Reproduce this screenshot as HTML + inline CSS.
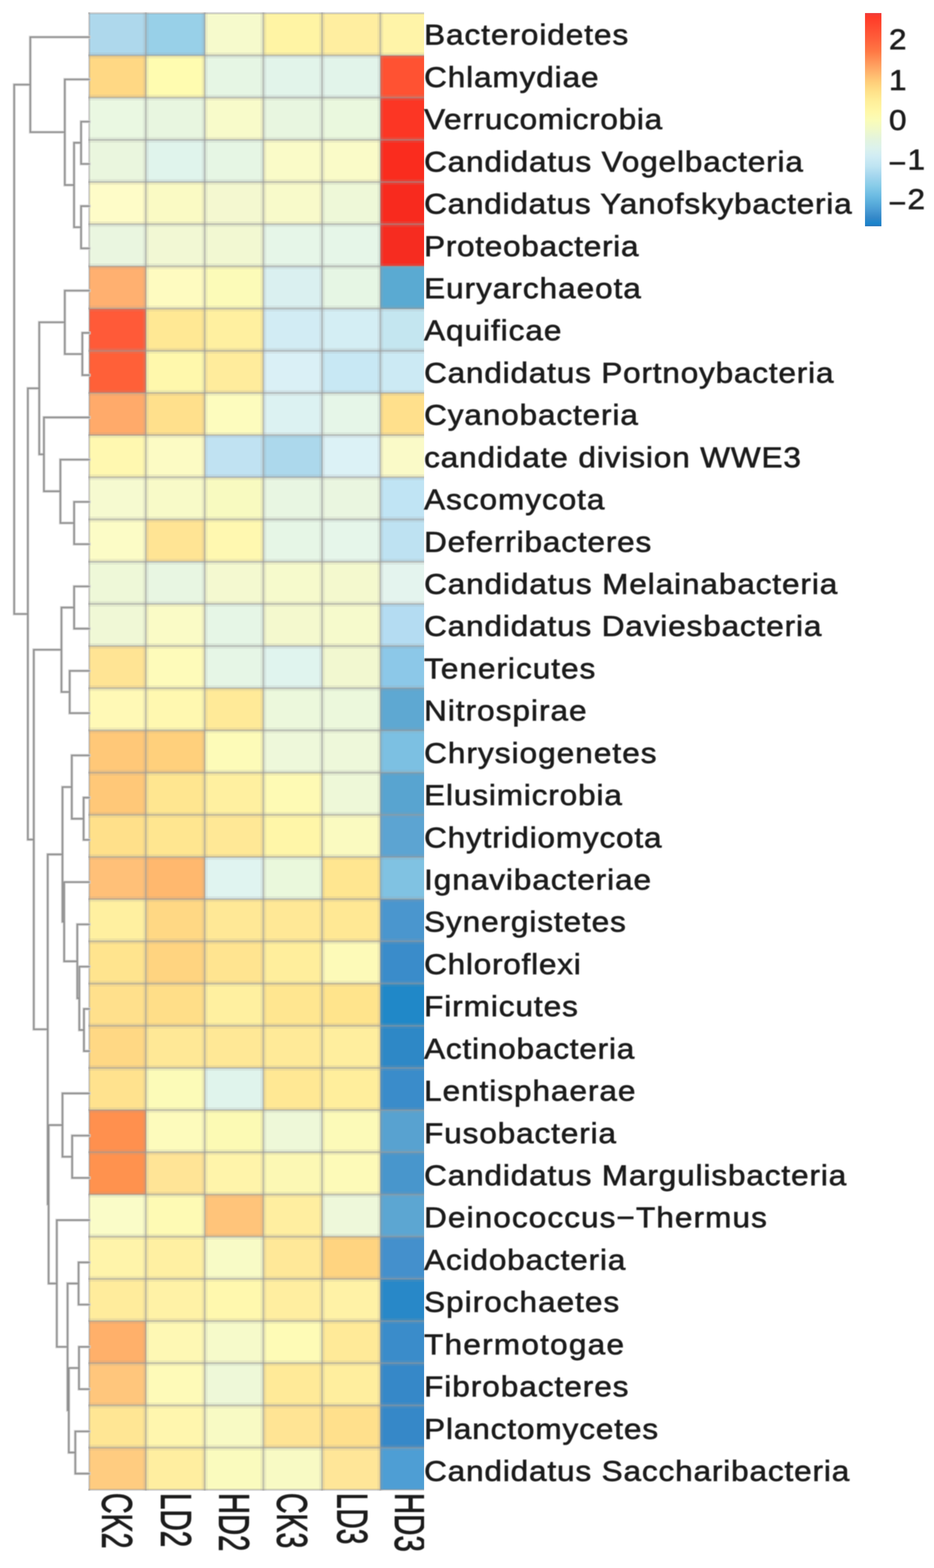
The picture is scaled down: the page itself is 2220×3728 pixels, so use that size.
<!DOCTYPE html>
<html><head><meta charset="utf-8"><title>Heatmap</title>
<style>
html,body{margin:0;padding:0;background:#fff;}
body{width:2220px;height:3728px;position:relative;overflow:hidden;}
.t{font-family:"Liberation Sans",Arial,sans-serif;font-size:68px;fill:#1e1e1e;stroke:#1e1e1e;stroke-width:1.4px;}
</style></head><body>
<svg width="2220" height="3728" viewBox="0 0 2220 3728" style="position:absolute;left:0;top:0"><defs><filter id="bl" x="-0.05" y="-0.05" width="1.1" height="1.1"><feGaussianBlur stdDeviation="1.1"/></filter><filter id="tb" x="-0.02" y="-0.02" width="1.04" height="1.04"><feGaussianBlur stdDeviation="0.9"/></filter><clipPath id="hc"><rect x="0" y="0" width="1008" height="3728"/></clipPath><linearGradient id="lg" x1="0" y1="0" x2="0" y2="1"><stop offset="0" stop-color="#EC3C3C"/><stop offset="0.018" stop-color="#FF3A28"/><stop offset="0.063" stop-color="#FF4A30"/><stop offset="0.119" stop-color="#FF5E3A"/><stop offset="0.18" stop-color="#FF7844"/><stop offset="0.236" stop-color="#FF9A5C"/><stop offset="0.28" stop-color="#FFB46C"/><stop offset="0.32" stop-color="#FFCC78"/><stop offset="0.366" stop-color="#FFE088"/><stop offset="0.41" stop-color="#FFEE98"/><stop offset="0.463" stop-color="#FFF8A8"/><stop offset="0.503" stop-color="#FAFCB8"/><stop offset="0.552" stop-color="#EEF8CC"/><stop offset="0.588" stop-color="#E4F4DC"/><stop offset="0.632" stop-color="#DCF2EC"/><stop offset="0.673" stop-color="#D0ECF4"/><stop offset="0.719" stop-color="#BEE4F2"/><stop offset="0.764" stop-color="#A4D6EE"/><stop offset="0.81" stop-color="#88CCE8"/><stop offset="0.85" stop-color="#70BEE4"/><stop offset="0.889" stop-color="#5AAEDC"/><stop offset="0.923" stop-color="#4A9CD4"/><stop offset="0.96" stop-color="#3488C8"/><stop offset="0.988" stop-color="#1A84CC"/><stop offset="1" stop-color="#2A74B8"/></linearGradient></defs><g clip-path="url(#hc)" shape-rendering="crispEdges"><rect x="212.0" y="31.5" width="134.5" height="100.3" fill="#AED8EC"/><rect x="346.5" y="31.5" width="140.0" height="100.3" fill="#98D0E8"/><rect x="486.5" y="31.5" width="139.5" height="100.3" fill="#F6FACC"/><rect x="626.0" y="31.5" width="139.5" height="100.3" fill="#FFF4A4"/><rect x="765.5" y="31.5" width="138.5" height="100.3" fill="#FFEEA0"/><rect x="904.0" y="31.5" width="139.0" height="100.3" fill="#FFF4A8"/><rect x="212.0" y="131.8" width="134.5" height="100.3" fill="#FFD884"/><rect x="346.5" y="131.8" width="140.0" height="100.3" fill="#FFFCB0"/><rect x="486.5" y="131.8" width="139.5" height="100.3" fill="#E6F6E4"/><rect x="626.0" y="131.8" width="139.5" height="100.3" fill="#E2F4EA"/><rect x="765.5" y="131.8" width="138.5" height="100.3" fill="#E2F4EA"/><rect x="904.0" y="131.8" width="139.0" height="100.3" fill="#FF5232"/><rect x="212.0" y="232.1" width="134.5" height="100.3" fill="#EAF8E2"/><rect x="346.5" y="232.1" width="140.0" height="100.3" fill="#E8F6E0"/><rect x="486.5" y="232.1" width="139.5" height="100.3" fill="#F8FBCA"/><rect x="626.0" y="232.1" width="139.5" height="100.3" fill="#E8F6E0"/><rect x="765.5" y="232.1" width="138.5" height="100.3" fill="#EAF8DE"/><rect x="904.0" y="232.1" width="139.0" height="100.3" fill="#FC3624"/><rect x="212.0" y="332.4" width="134.5" height="100.3" fill="#EAF6DE"/><rect x="346.5" y="332.4" width="140.0" height="100.3" fill="#E0F4EC"/><rect x="486.5" y="332.4" width="139.5" height="100.3" fill="#E6F6E4"/><rect x="626.0" y="332.4" width="139.5" height="100.3" fill="#FAFBC8"/><rect x="765.5" y="332.4" width="138.5" height="100.3" fill="#FAFBC8"/><rect x="904.0" y="332.4" width="139.0" height="100.3" fill="#FA2C1E"/><rect x="212.0" y="432.7" width="134.5" height="100.3" fill="#FEFCC8"/><rect x="346.5" y="432.7" width="140.0" height="100.3" fill="#FAFAC4"/><rect x="486.5" y="432.7" width="139.5" height="100.3" fill="#F4F8D0"/><rect x="626.0" y="432.7" width="139.5" height="100.3" fill="#F8FACA"/><rect x="765.5" y="432.7" width="138.5" height="100.3" fill="#EEF8D8"/><rect x="904.0" y="432.7" width="139.0" height="100.3" fill="#F82A1E"/><rect x="212.0" y="533.0" width="134.5" height="100.3" fill="#EAF6E0"/><rect x="346.5" y="533.0" width="140.0" height="100.3" fill="#F2F8D4"/><rect x="486.5" y="533.0" width="139.5" height="100.3" fill="#F2F8D2"/><rect x="626.0" y="533.0" width="139.5" height="100.3" fill="#E6F6E8"/><rect x="765.5" y="533.0" width="138.5" height="100.3" fill="#E6F6E8"/><rect x="904.0" y="533.0" width="139.0" height="100.3" fill="#F62C20"/><rect x="212.0" y="633.3" width="134.5" height="100.3" fill="#FFB070"/><rect x="346.5" y="633.3" width="140.0" height="100.3" fill="#FEFBC0"/><rect x="486.5" y="633.3" width="139.5" height="100.3" fill="#FCFBB8"/><rect x="626.0" y="633.3" width="139.5" height="100.3" fill="#DAF0F0"/><rect x="765.5" y="633.3" width="138.5" height="100.3" fill="#E6F6E4"/><rect x="904.0" y="633.3" width="139.0" height="100.3" fill="#5AAAD2"/><rect x="212.0" y="733.6" width="134.5" height="100.3" fill="#FF5A38"/><rect x="346.5" y="733.6" width="140.0" height="100.3" fill="#FFE894"/><rect x="486.5" y="733.6" width="139.5" height="100.3" fill="#FFF0A0"/><rect x="626.0" y="733.6" width="139.5" height="100.3" fill="#D2ECF4"/><rect x="765.5" y="733.6" width="138.5" height="100.3" fill="#D4EEF4"/><rect x="904.0" y="733.6" width="139.0" height="100.3" fill="#C4E6F0"/><rect x="212.0" y="833.9" width="134.5" height="100.3" fill="#FF6038"/><rect x="346.5" y="833.9" width="140.0" height="100.3" fill="#FFF8AC"/><rect x="486.5" y="833.9" width="139.5" height="100.3" fill="#FFEC9C"/><rect x="626.0" y="833.9" width="139.5" height="100.3" fill="#DAF0F6"/><rect x="765.5" y="833.9" width="138.5" height="100.3" fill="#C8E8F4"/><rect x="904.0" y="833.9" width="139.0" height="100.3" fill="#CCEAF4"/><rect x="212.0" y="934.2" width="134.5" height="100.3" fill="#FFAA6A"/><rect x="346.5" y="934.2" width="140.0" height="100.3" fill="#FFE08C"/><rect x="486.5" y="934.2" width="139.5" height="100.3" fill="#FDFCBE"/><rect x="626.0" y="934.2" width="139.5" height="100.3" fill="#DCF2F2"/><rect x="765.5" y="934.2" width="138.5" height="100.3" fill="#E6F6E8"/><rect x="904.0" y="934.2" width="139.0" height="100.3" fill="#FFE08C"/><rect x="212.0" y="1034.5" width="134.5" height="100.3" fill="#FFF8B0"/><rect x="346.5" y="1034.5" width="140.0" height="100.3" fill="#FCFBC4"/><rect x="486.5" y="1034.5" width="139.5" height="100.3" fill="#C0E2F2"/><rect x="626.0" y="1034.5" width="139.5" height="100.3" fill="#ACD8EC"/><rect x="765.5" y="1034.5" width="138.5" height="100.3" fill="#DCF2F6"/><rect x="904.0" y="1034.5" width="139.0" height="100.3" fill="#FAFAC8"/><rect x="212.0" y="1134.8" width="134.5" height="100.3" fill="#F6FAD0"/><rect x="346.5" y="1134.8" width="140.0" height="100.3" fill="#F8FAC8"/><rect x="486.5" y="1134.8" width="139.5" height="100.3" fill="#F8FAC0"/><rect x="626.0" y="1134.8" width="139.5" height="100.3" fill="#E8F6E2"/><rect x="765.5" y="1134.8" width="138.5" height="100.3" fill="#EAF6E0"/><rect x="904.0" y="1134.8" width="139.0" height="100.3" fill="#C0E4F4"/><rect x="212.0" y="1235.1" width="134.5" height="100.3" fill="#FCFCC6"/><rect x="346.5" y="1235.1" width="140.0" height="100.3" fill="#FFE494"/><rect x="486.5" y="1235.1" width="139.5" height="100.3" fill="#FFF8B0"/><rect x="626.0" y="1235.1" width="139.5" height="100.3" fill="#E6F6E6"/><rect x="765.5" y="1235.1" width="138.5" height="100.3" fill="#E6F6EA"/><rect x="904.0" y="1235.1" width="139.0" height="100.3" fill="#BEE2F2"/><rect x="212.0" y="1335.4" width="134.5" height="100.3" fill="#EEF8D8"/><rect x="346.5" y="1335.4" width="140.0" height="100.3" fill="#E8F6E2"/><rect x="486.5" y="1335.4" width="139.5" height="100.3" fill="#F4F9D0"/><rect x="626.0" y="1335.4" width="139.5" height="100.3" fill="#F6FACC"/><rect x="765.5" y="1335.4" width="138.5" height="100.3" fill="#F4F9CE"/><rect x="904.0" y="1335.4" width="139.0" height="100.3" fill="#E4F4EE"/><rect x="212.0" y="1435.7" width="134.5" height="100.3" fill="#F0F8D6"/><rect x="346.5" y="1435.7" width="140.0" height="100.3" fill="#FAFBC6"/><rect x="486.5" y="1435.7" width="139.5" height="100.3" fill="#E6F6E6"/><rect x="626.0" y="1435.7" width="139.5" height="100.3" fill="#F4F9CE"/><rect x="765.5" y="1435.7" width="138.5" height="100.3" fill="#F6FACC"/><rect x="904.0" y="1435.7" width="139.0" height="100.3" fill="#B4DCF2"/><rect x="212.0" y="1536.0" width="134.5" height="100.3" fill="#FFE494"/><rect x="346.5" y="1536.0" width="140.0" height="100.3" fill="#FEFBBA"/><rect x="486.5" y="1536.0" width="139.5" height="100.3" fill="#E6F6E6"/><rect x="626.0" y="1536.0" width="139.5" height="100.3" fill="#E0F4EE"/><rect x="765.5" y="1536.0" width="138.5" height="100.3" fill="#F2F8D0"/><rect x="904.0" y="1536.0" width="139.0" height="100.3" fill="#8CC8E8"/><rect x="212.0" y="1636.3" width="134.5" height="100.3" fill="#FFF9B6"/><rect x="346.5" y="1636.3" width="140.0" height="100.3" fill="#FFF8B0"/><rect x="486.5" y="1636.3" width="139.5" height="100.3" fill="#FFEA98"/><rect x="626.0" y="1636.3" width="139.5" height="100.3" fill="#ECF8DC"/><rect x="765.5" y="1636.3" width="138.5" height="100.3" fill="#ECF8DC"/><rect x="904.0" y="1636.3" width="139.0" height="100.3" fill="#5EA8D2"/><rect x="212.0" y="1736.6" width="134.5" height="100.3" fill="#FFC878"/><rect x="346.5" y="1736.6" width="140.0" height="100.3" fill="#FFD07C"/><rect x="486.5" y="1736.6" width="139.5" height="100.3" fill="#FDFBB8"/><rect x="626.0" y="1736.6" width="139.5" height="100.3" fill="#EEF8DA"/><rect x="765.5" y="1736.6" width="138.5" height="100.3" fill="#EEF8DA"/><rect x="904.0" y="1736.6" width="139.0" height="100.3" fill="#7CC0E2"/><rect x="212.0" y="1836.9" width="134.5" height="100.3" fill="#FFC878"/><rect x="346.5" y="1836.9" width="140.0" height="100.3" fill="#FFE690"/><rect x="486.5" y="1836.9" width="139.5" height="100.3" fill="#FFF0A0"/><rect x="626.0" y="1836.9" width="139.5" height="100.3" fill="#FEFAB4"/><rect x="765.5" y="1836.9" width="138.5" height="100.3" fill="#EEF8D8"/><rect x="904.0" y="1836.9" width="139.0" height="100.3" fill="#58A4D0"/><rect x="212.0" y="1937.2" width="134.5" height="100.3" fill="#FFE08A"/><rect x="346.5" y="1937.2" width="140.0" height="100.3" fill="#FFE690"/><rect x="486.5" y="1937.2" width="139.5" height="100.3" fill="#FFE896"/><rect x="626.0" y="1937.2" width="139.5" height="100.3" fill="#FFF6A8"/><rect x="765.5" y="1937.2" width="138.5" height="100.3" fill="#FAFAC0"/><rect x="904.0" y="1937.2" width="139.0" height="100.3" fill="#5CA4D2"/><rect x="212.0" y="2037.5" width="134.5" height="100.3" fill="#FFC078"/><rect x="346.5" y="2037.5" width="140.0" height="100.3" fill="#FFB86E"/><rect x="486.5" y="2037.5" width="139.5" height="100.3" fill="#E0F4F0"/><rect x="626.0" y="2037.5" width="139.5" height="100.3" fill="#EAF8DC"/><rect x="765.5" y="2037.5" width="138.5" height="100.3" fill="#FFE690"/><rect x="904.0" y="2037.5" width="139.0" height="100.3" fill="#80C2E2"/><rect x="212.0" y="2137.8" width="134.5" height="100.3" fill="#FFF0A0"/><rect x="346.5" y="2137.8" width="140.0" height="100.3" fill="#FFD884"/><rect x="486.5" y="2137.8" width="139.5" height="100.3" fill="#FFE896"/><rect x="626.0" y="2137.8" width="139.5" height="100.3" fill="#FFE896"/><rect x="765.5" y="2137.8" width="138.5" height="100.3" fill="#FFE894"/><rect x="904.0" y="2137.8" width="139.0" height="100.3" fill="#4A96CE"/><rect x="212.0" y="2238.1" width="134.5" height="100.3" fill="#FFE48E"/><rect x="346.5" y="2238.1" width="140.0" height="100.3" fill="#FFD480"/><rect x="486.5" y="2238.1" width="139.5" height="100.3" fill="#FFE490"/><rect x="626.0" y="2238.1" width="139.5" height="100.3" fill="#FFEE9C"/><rect x="765.5" y="2238.1" width="138.5" height="100.3" fill="#FDFAB8"/><rect x="904.0" y="2238.1" width="139.0" height="100.3" fill="#3A8CCA"/><rect x="212.0" y="2338.4" width="134.5" height="100.3" fill="#FFE08C"/><rect x="346.5" y="2338.4" width="140.0" height="100.3" fill="#FFDE88"/><rect x="486.5" y="2338.4" width="139.5" height="100.3" fill="#FFF0A0"/><rect x="626.0" y="2338.4" width="139.5" height="100.3" fill="#FFE690"/><rect x="765.5" y="2338.4" width="138.5" height="100.3" fill="#FFE48C"/><rect x="904.0" y="2338.4" width="139.0" height="100.3" fill="#2088C8"/><rect x="212.0" y="2438.7" width="134.5" height="100.3" fill="#FFD884"/><rect x="346.5" y="2438.7" width="140.0" height="100.3" fill="#FFE896"/><rect x="486.5" y="2438.7" width="139.5" height="100.3" fill="#FFE896"/><rect x="626.0" y="2438.7" width="139.5" height="100.3" fill="#FFEA98"/><rect x="765.5" y="2438.7" width="138.5" height="100.3" fill="#FFEE9E"/><rect x="904.0" y="2438.7" width="139.0" height="100.3" fill="#2E88C6"/><rect x="212.0" y="2539.0" width="134.5" height="100.3" fill="#FFE28E"/><rect x="346.5" y="2539.0" width="140.0" height="100.3" fill="#FCFBB8"/><rect x="486.5" y="2539.0" width="139.5" height="100.3" fill="#E0F4EC"/><rect x="626.0" y="2539.0" width="139.5" height="100.3" fill="#FFE894"/><rect x="765.5" y="2539.0" width="138.5" height="100.3" fill="#FFEE9C"/><rect x="904.0" y="2539.0" width="139.0" height="100.3" fill="#3A8CCA"/><rect x="212.0" y="2639.3" width="134.5" height="100.3" fill="#FF904E"/><rect x="346.5" y="2639.3" width="140.0" height="100.3" fill="#FDFBBC"/><rect x="486.5" y="2639.3" width="139.5" height="100.3" fill="#FCFAB4"/><rect x="626.0" y="2639.3" width="139.5" height="100.3" fill="#EEF8D8"/><rect x="765.5" y="2639.3" width="138.5" height="100.3" fill="#FCFAB8"/><rect x="904.0" y="2639.3" width="139.0" height="100.3" fill="#58A2D0"/><rect x="212.0" y="2739.6" width="134.5" height="100.3" fill="#FF924E"/><rect x="346.5" y="2739.6" width="140.0" height="100.3" fill="#FFE496"/><rect x="486.5" y="2739.6" width="139.5" height="100.3" fill="#FFF4AA"/><rect x="626.0" y="2739.6" width="139.5" height="100.3" fill="#FCF8B4"/><rect x="765.5" y="2739.6" width="138.5" height="100.3" fill="#FDFAB8"/><rect x="904.0" y="2739.6" width="139.0" height="100.3" fill="#4896CC"/><rect x="212.0" y="2839.9" width="134.5" height="100.3" fill="#FAFCC8"/><rect x="346.5" y="2839.9" width="140.0" height="100.3" fill="#FEFAB4"/><rect x="486.5" y="2839.9" width="139.5" height="100.3" fill="#FFC47A"/><rect x="626.0" y="2839.9" width="139.5" height="100.3" fill="#FFEEA0"/><rect x="765.5" y="2839.9" width="138.5" height="100.3" fill="#EEF8DA"/><rect x="904.0" y="2839.9" width="139.0" height="100.3" fill="#5CA6D2"/><rect x="212.0" y="2940.2" width="134.5" height="100.3" fill="#FFF4AA"/><rect x="346.5" y="2940.2" width="140.0" height="100.3" fill="#FFF0A2"/><rect x="486.5" y="2940.2" width="139.5" height="100.3" fill="#F8FBC6"/><rect x="626.0" y="2940.2" width="139.5" height="100.3" fill="#FFE898"/><rect x="765.5" y="2940.2" width="138.5" height="100.3" fill="#FFD480"/><rect x="904.0" y="2940.2" width="139.0" height="100.3" fill="#4490CC"/><rect x="212.0" y="3040.5" width="134.5" height="100.3" fill="#FFEC9C"/><rect x="346.5" y="3040.5" width="140.0" height="100.3" fill="#FFF2A6"/><rect x="486.5" y="3040.5" width="139.5" height="100.3" fill="#FFF8AE"/><rect x="626.0" y="3040.5" width="139.5" height="100.3" fill="#FFEEA0"/><rect x="765.5" y="3040.5" width="138.5" height="100.3" fill="#FFF2A6"/><rect x="904.0" y="3040.5" width="139.0" height="100.3" fill="#2888C8"/><rect x="212.0" y="3140.8" width="134.5" height="100.3" fill="#FFB06A"/><rect x="346.5" y="3140.8" width="140.0" height="100.3" fill="#FEF8B4"/><rect x="486.5" y="3140.8" width="139.5" height="100.3" fill="#F6FACA"/><rect x="626.0" y="3140.8" width="139.5" height="100.3" fill="#FEFBB6"/><rect x="765.5" y="3140.8" width="138.5" height="100.3" fill="#FFEA98"/><rect x="904.0" y="3140.8" width="139.0" height="100.3" fill="#3A8CCA"/><rect x="212.0" y="3241.1" width="134.5" height="100.3" fill="#FFC67C"/><rect x="346.5" y="3241.1" width="140.0" height="100.3" fill="#FEFAB8"/><rect x="486.5" y="3241.1" width="139.5" height="100.3" fill="#EEF8D8"/><rect x="626.0" y="3241.1" width="139.5" height="100.3" fill="#FFEA98"/><rect x="765.5" y="3241.1" width="138.5" height="100.3" fill="#FFEE9E"/><rect x="904.0" y="3241.1" width="139.0" height="100.3" fill="#3688C8"/><rect x="212.0" y="3341.4" width="134.5" height="100.3" fill="#FFE694"/><rect x="346.5" y="3341.4" width="140.0" height="100.3" fill="#FFF6AE"/><rect x="486.5" y="3341.4" width="139.5" height="100.3" fill="#F8FAC4"/><rect x="626.0" y="3341.4" width="139.5" height="100.3" fill="#FFE494"/><rect x="765.5" y="3341.4" width="138.5" height="100.3" fill="#FFE08C"/><rect x="904.0" y="3341.4" width="139.0" height="100.3" fill="#3688C8"/><rect x="212.0" y="3441.7" width="134.5" height="100.3" fill="#FFCC80"/><rect x="346.5" y="3441.7" width="140.0" height="100.3" fill="#FFEEA0"/><rect x="486.5" y="3441.7" width="139.5" height="100.3" fill="#FAFBBE"/><rect x="626.0" y="3441.7" width="139.5" height="100.3" fill="#F8FAC4"/><rect x="765.5" y="3441.7" width="138.5" height="100.3" fill="#FFE698"/><rect x="904.0" y="3441.7" width="139.0" height="100.3" fill="#4E9ED4"/></g><g clip-path="url(#hc)" fill="none" stroke="#999999"><g stroke-width="14" stroke-opacity="0.14"><line x1="210" y1="131.8" x2="1043" y2="131.8"/><line x1="210" y1="232.1" x2="1043" y2="232.1"/><line x1="210" y1="332.4" x2="1043" y2="332.4"/><line x1="210" y1="432.7" x2="1043" y2="432.7"/><line x1="210" y1="533.0" x2="1043" y2="533.0"/><line x1="210" y1="633.3" x2="1043" y2="633.3"/><line x1="210" y1="733.6" x2="1043" y2="733.6"/><line x1="210" y1="833.9" x2="1043" y2="833.9"/><line x1="210" y1="934.2" x2="1043" y2="934.2"/><line x1="210" y1="1034.5" x2="1043" y2="1034.5"/><line x1="210" y1="1134.8" x2="1043" y2="1134.8"/><line x1="210" y1="1235.1" x2="1043" y2="1235.1"/><line x1="210" y1="1335.4" x2="1043" y2="1335.4"/><line x1="210" y1="1435.7" x2="1043" y2="1435.7"/><line x1="210" y1="1536.0" x2="1043" y2="1536.0"/><line x1="210" y1="1636.3" x2="1043" y2="1636.3"/><line x1="210" y1="1736.6" x2="1043" y2="1736.6"/><line x1="210" y1="1836.9" x2="1043" y2="1836.9"/><line x1="210" y1="1937.2" x2="1043" y2="1937.2"/><line x1="210" y1="2037.5" x2="1043" y2="2037.5"/><line x1="210" y1="2137.8" x2="1043" y2="2137.8"/><line x1="210" y1="2238.1" x2="1043" y2="2238.1"/><line x1="210" y1="2338.4" x2="1043" y2="2338.4"/><line x1="210" y1="2438.7" x2="1043" y2="2438.7"/><line x1="210" y1="2539.0" x2="1043" y2="2539.0"/><line x1="210" y1="2639.3" x2="1043" y2="2639.3"/><line x1="210" y1="2739.6" x2="1043" y2="2739.6"/><line x1="210" y1="2839.9" x2="1043" y2="2839.9"/><line x1="210" y1="2940.2" x2="1043" y2="2940.2"/><line x1="210" y1="3040.5" x2="1043" y2="3040.5"/><line x1="210" y1="3140.8" x2="1043" y2="3140.8"/><line x1="210" y1="3241.1" x2="1043" y2="3241.1"/><line x1="210" y1="3341.4" x2="1043" y2="3341.4"/><line x1="210" y1="3441.7" x2="1043" y2="3441.7"/><line x1="346.5" y1="29.5" x2="346.5" y2="3544"/><line x1="486.5" y1="29.5" x2="486.5" y2="3544"/><line x1="626" y1="29.5" x2="626" y2="3544"/><line x1="765.5" y1="29.5" x2="765.5" y2="3544"/><line x1="904" y1="29.5" x2="904" y2="3544"/><line x1="1043" y1="29.5" x2="1043" y2="3544"/></g><g stroke-width="5" stroke-opacity="0.42"><line x1="210" y1="31.5" x2="1043" y2="31.5"/><line x1="210" y1="131.8" x2="1043" y2="131.8"/><line x1="210" y1="232.1" x2="1043" y2="232.1"/><line x1="210" y1="332.4" x2="1043" y2="332.4"/><line x1="210" y1="432.7" x2="1043" y2="432.7"/><line x1="210" y1="533.0" x2="1043" y2="533.0"/><line x1="210" y1="633.3" x2="1043" y2="633.3"/><line x1="210" y1="733.6" x2="1043" y2="733.6"/><line x1="210" y1="833.9" x2="1043" y2="833.9"/><line x1="210" y1="934.2" x2="1043" y2="934.2"/><line x1="210" y1="1034.5" x2="1043" y2="1034.5"/><line x1="210" y1="1134.8" x2="1043" y2="1134.8"/><line x1="210" y1="1235.1" x2="1043" y2="1235.1"/><line x1="210" y1="1335.4" x2="1043" y2="1335.4"/><line x1="210" y1="1435.7" x2="1043" y2="1435.7"/><line x1="210" y1="1536.0" x2="1043" y2="1536.0"/><line x1="210" y1="1636.3" x2="1043" y2="1636.3"/><line x1="210" y1="1736.6" x2="1043" y2="1736.6"/><line x1="210" y1="1836.9" x2="1043" y2="1836.9"/><line x1="210" y1="1937.2" x2="1043" y2="1937.2"/><line x1="210" y1="2037.5" x2="1043" y2="2037.5"/><line x1="210" y1="2137.8" x2="1043" y2="2137.8"/><line x1="210" y1="2238.1" x2="1043" y2="2238.1"/><line x1="210" y1="2338.4" x2="1043" y2="2338.4"/><line x1="210" y1="2438.7" x2="1043" y2="2438.7"/><line x1="210" y1="2539.0" x2="1043" y2="2539.0"/><line x1="210" y1="2639.3" x2="1043" y2="2639.3"/><line x1="210" y1="2739.6" x2="1043" y2="2739.6"/><line x1="210" y1="2839.9" x2="1043" y2="2839.9"/><line x1="210" y1="2940.2" x2="1043" y2="2940.2"/><line x1="210" y1="3040.5" x2="1043" y2="3040.5"/><line x1="210" y1="3140.8" x2="1043" y2="3140.8"/><line x1="210" y1="3241.1" x2="1043" y2="3241.1"/><line x1="210" y1="3341.4" x2="1043" y2="3341.4"/><line x1="210" y1="3441.7" x2="1043" y2="3441.7"/><line x1="210" y1="3542.0" x2="1043" y2="3542.0"/><line x1="212" y1="29.5" x2="212" y2="3544"/><line x1="346.5" y1="29.5" x2="346.5" y2="3544"/><line x1="486.5" y1="29.5" x2="486.5" y2="3544"/><line x1="626" y1="29.5" x2="626" y2="3544"/><line x1="765.5" y1="29.5" x2="765.5" y2="3544"/><line x1="904" y1="29.5" x2="904" y2="3544"/><line x1="1043" y1="29.5" x2="1043" y2="3544"/></g></g><g filter="url(#bl)"><path d="M192.7 289.2H212.0M192.7 389.7H212.0M192.7 289.2V389.7M192.7 490.1H212.0M192.7 590.5H212.0M192.7 490.1V590.5M176.0 339.4H192.7M176.0 540.3H192.7M176.0 339.4V540.3M154.0 188.8H212.0M154.0 439.9H176.0M154.0 188.8V439.9M72.0 88.3H212.0M72.0 314.3H154.0M72.0 88.3V314.3M195.7 791.4H212.0M195.7 891.9H212.0M195.7 791.4V891.9M154.0 691.0H212.0M154.0 841.7H195.7M154.0 691.0V841.7M176.2 1193.2H212.0M176.2 1293.7H212.0M176.2 1193.2V1293.7M143.5 1092.8H212.0M143.5 1243.5H176.2M143.5 1092.8V1243.5M104.4 992.4H212.0M104.4 1168.1H143.5M104.4 992.4V1168.1M93.3 766.3H154.0M93.3 1080.2H104.4M93.3 766.3V1080.2M176.2 1394.2H212.0M176.2 1494.6H212.0M176.2 1394.2V1494.6M165.6 1595.0H212.0M165.6 1695.5H212.0M165.6 1595.0V1695.5M146.1 1444.4H176.2M146.1 1645.3H165.6M146.1 1444.4V1645.3M198.7 1896.4H212.0M198.7 1996.8H212.0M198.7 1896.4V1996.8M170.6 1796.0H212.0M170.6 1946.6H198.7M170.6 1796.0V1946.6M199.5 2398.7H212.0M199.5 2499.1H212.0M199.5 2398.7V2499.1M188.5 2298.2H212.0M188.5 2448.9H199.5M188.5 2298.2V2448.9M183.7 2197.8H212.0M183.7 2373.5H188.5M183.7 2197.8V2373.5M152.5 2097.3H212.0M152.5 2285.6H183.7M152.5 2097.3V2285.6M148.5 1871.3H170.6M148.5 2191.5H152.5M148.5 1871.3V2191.5M171.5 2700.0H212.0M171.5 2800.5H212.0M171.5 2700.0V2800.5M148.5 2599.6H212.0M148.5 2750.2H171.5M148.5 2599.6V2750.2M186.7 3001.4H212.0M186.7 3101.8H212.0M186.7 3001.4V3101.8M187.7 3202.3H212.0M187.7 3302.7H212.0M187.7 3202.3V3302.7M179.0 3403.2H212.0M179.0 3503.6H212.0M179.0 3403.2V3503.6M163.5 3252.5H187.7M163.5 3453.4H179.0M163.5 3252.5V3453.4M160.6 3051.6H186.7M160.6 3352.9H163.5M160.6 3051.6V3352.9M135.0 2900.9H212.0M135.0 3202.2H160.6M135.0 2900.9V3202.2M115.5 2674.9H148.5M115.5 3051.6H135.0M115.5 2674.9V3051.6M113.4 2031.4H148.5M113.4 2863.2H115.5M113.4 2031.4V2863.2M80.3 1544.8H146.1M80.3 2447.3H113.4M80.3 1544.8V2447.3M66.2 923.3H93.3M66.2 1996.1H80.3M66.2 923.3V1996.1M33.7 201.3H72.0M33.7 1459.7H66.2M33.7 201.3V1459.7" stroke="#d6d6d6" stroke-width="7" fill="none" stroke-linecap="square"/><path d="M192.7 289.2H212.0M192.7 389.7H212.0M192.7 289.2V389.7M192.7 490.1H212.0M192.7 590.5H212.0M192.7 490.1V590.5M176.0 339.4H192.7M176.0 540.3H192.7M176.0 339.4V540.3M154.0 188.8H212.0M154.0 439.9H176.0M154.0 188.8V439.9M72.0 88.3H212.0M72.0 314.3H154.0M72.0 88.3V314.3M195.7 791.4H212.0M195.7 891.9H212.0M195.7 791.4V891.9M154.0 691.0H212.0M154.0 841.7H195.7M154.0 691.0V841.7M176.2 1193.2H212.0M176.2 1293.7H212.0M176.2 1193.2V1293.7M143.5 1092.8H212.0M143.5 1243.5H176.2M143.5 1092.8V1243.5M104.4 992.4H212.0M104.4 1168.1H143.5M104.4 992.4V1168.1M93.3 766.3H154.0M93.3 1080.2H104.4M93.3 766.3V1080.2M176.2 1394.2H212.0M176.2 1494.6H212.0M176.2 1394.2V1494.6M165.6 1595.0H212.0M165.6 1695.5H212.0M165.6 1595.0V1695.5M146.1 1444.4H176.2M146.1 1645.3H165.6M146.1 1444.4V1645.3M198.7 1896.4H212.0M198.7 1996.8H212.0M198.7 1896.4V1996.8M170.6 1796.0H212.0M170.6 1946.6H198.7M170.6 1796.0V1946.6M199.5 2398.7H212.0M199.5 2499.1H212.0M199.5 2398.7V2499.1M188.5 2298.2H212.0M188.5 2448.9H199.5M188.5 2298.2V2448.9M183.7 2197.8H212.0M183.7 2373.5H188.5M183.7 2197.8V2373.5M152.5 2097.3H212.0M152.5 2285.6H183.7M152.5 2097.3V2285.6M148.5 1871.3H170.6M148.5 2191.5H152.5M148.5 1871.3V2191.5M171.5 2700.0H212.0M171.5 2800.5H212.0M171.5 2700.0V2800.5M148.5 2599.6H212.0M148.5 2750.2H171.5M148.5 2599.6V2750.2M186.7 3001.4H212.0M186.7 3101.8H212.0M186.7 3001.4V3101.8M187.7 3202.3H212.0M187.7 3302.7H212.0M187.7 3202.3V3302.7M179.0 3403.2H212.0M179.0 3503.6H212.0M179.0 3403.2V3503.6M163.5 3252.5H187.7M163.5 3453.4H179.0M163.5 3252.5V3453.4M160.6 3051.6H186.7M160.6 3352.9H163.5M160.6 3051.6V3352.9M135.0 2900.9H212.0M135.0 3202.2H160.6M135.0 2900.9V3202.2M115.5 2674.9H148.5M115.5 3051.6H135.0M115.5 2674.9V3051.6M113.4 2031.4H148.5M113.4 2863.2H115.5M113.4 2031.4V2863.2M80.3 1544.8H146.1M80.3 2447.3H113.4M80.3 1544.8V2447.3M66.2 923.3H93.3M66.2 1996.1H80.3M66.2 923.3V1996.1M33.7 201.3H72.0M33.7 1459.7H66.2M33.7 201.3V1459.7" stroke="#8e8e8e" stroke-width="3.6" fill="none" stroke-linecap="square"/></g><rect x="2056" y="31" width="39" height="507" fill="url(#lg)"/><g filter="url(#tb)"><text transform="translate(2113 117.0) scale(1.10 1)" class="t">2</text><text transform="translate(2113 213.5) scale(1.10 1)" class="t">1</text><text transform="translate(2113 309.0) scale(1.10 1)" class="t">0</text><text transform="translate(2112 402.5) scale(1.10 1)" class="t"><tspan x="0" dy="8.5" textLength="38.5" lengthAdjust="spacingAndGlyphs">−</tspan><tspan x="40.9" dy="-8.5">1</tspan></text><text transform="translate(2112 497.0) scale(1.10 1)" class="t"><tspan x="0" dy="8.5" textLength="38.5" lengthAdjust="spacingAndGlyphs">−</tspan><tspan x="40.9" dy="-8.5">2</tspan></text><text transform="translate(1008 106.3) scale(1.10 1)" class="t" letter-spacing="2.10">Bacteroidetes</text><text transform="translate(1008 206.7) scale(1.10 1)" class="t" letter-spacing="1.98">Chlamydiae</text><text transform="translate(1008 307.2) scale(1.10 1)" class="t" letter-spacing="1.66">Verrucomicrobia</text><text transform="translate(1008 407.6) scale(1.10 1)" class="t" letter-spacing="1.90">Candidatus Vogelbacteria</text><text transform="translate(1008 508.0) scale(1.10 1)" class="t" letter-spacing="1.76">Candidatus Yanofskybacteria</text><text transform="translate(1008 608.5) scale(1.10 1)" class="t" letter-spacing="1.62">Proteobacteria</text><text transform="translate(1008 708.9) scale(1.10 1)" class="t" letter-spacing="2.18">Euryarchaeota</text><text transform="translate(1008 809.3) scale(1.10 1)" class="t" letter-spacing="2.12">Aquificae</text><text transform="translate(1008 909.7) scale(1.10 1)" class="t" letter-spacing="1.82">Candidatus Portnoybacteria</text><text transform="translate(1008 1010.2) scale(1.10 1)" class="t" letter-spacing="1.95">Cyanobacteria</text><text transform="translate(1008 1110.6) scale(1.10 1)" class="t" letter-spacing="1.97">candidate division WWE3</text><text transform="translate(1008 1211.0) scale(1.10 1)" class="t" letter-spacing="2.15">Ascomycota</text><text transform="translate(1008 1311.5) scale(1.10 1)" class="t" letter-spacing="1.86">Deferribacteres</text><text transform="translate(1008 1411.9) scale(1.10 1)" class="t" letter-spacing="2.00">Candidatus Melainabacteria</text><text transform="translate(1008 1512.3) scale(1.10 1)" class="t" letter-spacing="1.91">Candidatus Daviesbacteria</text><text transform="translate(1008 1612.8) scale(1.10 1)" class="t" letter-spacing="2.23">Tenericutes</text><text transform="translate(1008 1713.2) scale(1.10 1)" class="t" letter-spacing="2.23">Nitrospirae</text><text transform="translate(1008 1813.6) scale(1.10 1)" class="t" letter-spacing="2.29">Chrysiogenetes</text><text transform="translate(1008 1914.0) scale(1.10 1)" class="t" letter-spacing="1.92">Elusimicrobia</text><text transform="translate(1008 2014.5) scale(1.10 1)" class="t" letter-spacing="1.83">Chytridiomycota</text><text transform="translate(1008 2114.9) scale(1.10 1)" class="t" letter-spacing="2.09">Ignavibacteriae</text><text transform="translate(1008 2215.3) scale(1.10 1)" class="t" letter-spacing="2.00">Synergistetes</text><text transform="translate(1008 2315.8) scale(1.10 1)" class="t" letter-spacing="1.73">Chloroflexi</text><text transform="translate(1008 2416.2) scale(1.10 1)" class="t" letter-spacing="2.08">Firmicutes</text><text transform="translate(1008 2516.6) scale(1.10 1)" class="t" letter-spacing="1.80">Actinobacteria</text><text transform="translate(1008 2617.1) scale(1.10 1)" class="t" letter-spacing="2.14">Lentisphaerae</text><text transform="translate(1008 2717.5) scale(1.10 1)" class="t" letter-spacing="1.97">Fusobacteria</text><text transform="translate(1008 2817.9) scale(1.10 1)" class="t" letter-spacing="1.94">Candidatus Margulisbacteria</text><text transform="translate(1008 2918.3) scale(1.10 1)" class="t" letter-spacing="2.41">Deinococcus−Thermus</text><text transform="translate(1008 3018.8) scale(1.10 1)" class="t" letter-spacing="1.91">Acidobacteria</text><text transform="translate(1008 3119.2) scale(1.10 1)" class="t" letter-spacing="2.25">Spirochaetes</text><text transform="translate(1008 3219.6) scale(1.10 1)" class="t" letter-spacing="2.75">Thermotogae</text><text transform="translate(1008 3320.1) scale(1.10 1)" class="t" letter-spacing="2.16">Fibrobacteres</text><text transform="translate(1008 3420.5) scale(1.10 1)" class="t" letter-spacing="1.97">Planctomycetes</text><text transform="translate(1008 3520.9) scale(1.10 1)" class="t" letter-spacing="1.90">Candidatus Saccharibacteria</text><g clip-path="url(#hc)"><text transform="translate(242.8 3549.5) rotate(90) scale(1.0 1.5)" class="t">CK2</text></g><g clip-path="url(#hc)"><text transform="translate(383.0 3549.5) rotate(90) scale(1.035 1.5)" class="t">LD2</text></g><g clip-path="url(#hc)"><text transform="translate(521.2 3549.5) rotate(90) scale(1.022 1.5)" class="t">HD2</text></g><g clip-path="url(#hc)"><text transform="translate(659.2 3549.5) rotate(90) scale(0.995 1.5)" class="t">CK3</text></g><g clip-path="url(#hc)"><text transform="translate(801.8 3549.5) rotate(90) scale(0.98 1.5)" class="t">LD3</text></g><g clip-path="url(#hc)"><text transform="translate(938.5 3549.5) rotate(90) scale(1.03 1.5)" class="t">HD3</text></g></g></svg>
</body></html>
